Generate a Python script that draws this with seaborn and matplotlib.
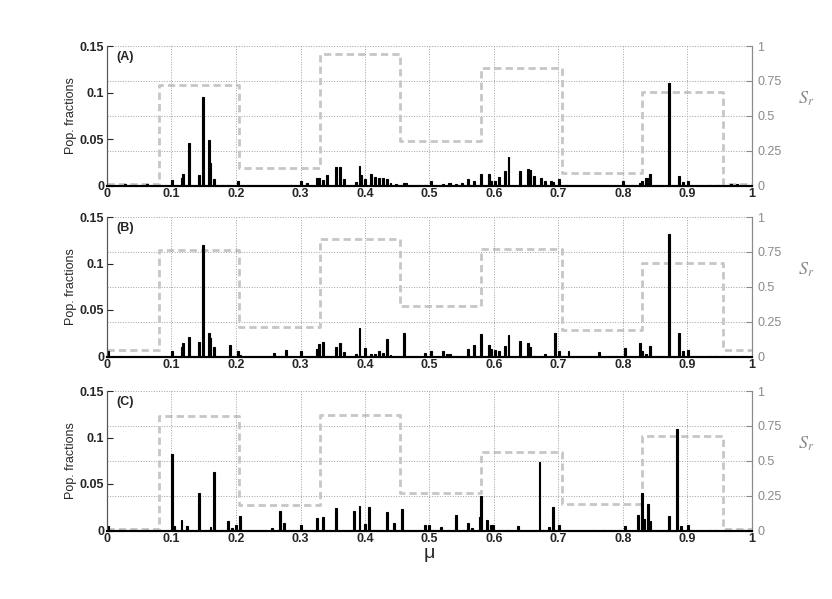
import numpy as np
import matplotlib
matplotlib.use('Agg')
import matplotlib.pyplot as plt
import seaborn as sns

sns.set_style('white')
plt.rcParams['font.family'] = ['Liberation Sans', 'DejaVu Sans']
plt.rcParams['mathtext.fontset'] = 'stix'

# S_r step function (right axis): segment edges and level per segment
edges = [0, 0.08, 0.205, 0.33, 0.455, 0.58, 0.705, 0.83, 0.955, 1.0]
sr_a = [0.01, 0.72, 0.125, 0.945, 0.32, 0.84, 0.09, 0.67, 0.01]
sr_b = [0.05, 0.76, 0.21, 0.84, 0.36, 0.77, 0.19, 0.67, 0.05]
sr_c = [0.01, 0.82, 0.18, 0.825, 0.27, 0.56, 0.19, 0.68, 0.01]

# population fractions (left axis)
mu_a = [0.005, 0.028, 0.043, 0.062, 0.100, 0.116, 0.119, 0.126, 0.143, 0.147,
        0.156, 0.160, 0.167, 0.179, 0.188, 0.201, 0.284, 0.301, 0.310, 0.325,
        0.328, 0.335, 0.341, 0.356, 0.361, 0.366, 0.385, 0.391, 0.395, 0.400,
        0.409, 0.416, 0.421, 0.426, 0.433, 0.440, 0.449, 0.459, 0.464, 0.485,
        0.493, 0.501, 0.519, 0.529, 0.533, 0.542, 0.550, 0.560, 0.568, 0.580,
        0.591, 0.596, 0.602, 0.608, 0.615, 0.621, 0.639, 0.651, 0.654, 0.660,
        0.672, 0.678, 0.687, 0.692, 0.701, 0.713, 0.800, 0.816, 0.826, 0.830,
        0.835, 0.838, 0.842, 0.872, 0.886, 0.892, 0.901, 0.935, 0.943, 0.950,
        0.968, 0.976, 0.989]
pop_a = [0.001, 0.0015, 0.001, 0.0015, 0.0054, 0.008, 0.0126, 0.046, 0.0115, 0.095,
         0.049, 0.024, 0.007, 0.001, 0.001, 0.005, 0.001, 0.005, 0.003, 0.008,
         0.008, 0.006, 0.011, 0.02, 0.02, 0.007, 0.004, 0.0205, 0.011, 0.0065,
         0.0126, 0.009, 0.008, 0.008, 0.0072, 0.003, 0.002, 0.003, 0.003, 0.001,
         0.001, 0.005, 0.002, 0.003, 0.003, 0.002, 0.003, 0.007, 0.005, 0.0126,
         0.0126, 0.005, 0.005, 0.009, 0.016, 0.0306, 0.016, 0.018, 0.017, 0.0097,
         0.008, 0.005, 0.0047, 0.004, 0.007, 0.001, 0.005, 0.001, 0.0025, 0.005,
         0.008, 0.008, 0.0126, 0.1097, 0.0097, 0.0036, 0.005, 0.001, 0.001, 0.001,
         0.002, 0.002, 0.001]

mu_b = [0.001, 0.020, 0.040, 0.060, 0.100, 0.116, 0.119, 0.126, 0.143, 0.147,
        0.156, 0.160, 0.167, 0.190, 0.201, 0.205, 0.258, 0.277, 0.301, 0.325,
        0.329, 0.335, 0.341, 0.356, 0.361, 0.366, 0.385, 0.391, 0.400, 0.409,
        0.416, 0.421, 0.426, 0.432, 0.440, 0.460, 0.493, 0.501, 0.519, 0.527,
        0.532, 0.542, 0.560, 0.568, 0.580, 0.591, 0.596, 0.602, 0.608, 0.615,
        0.621, 0.639, 0.651, 0.654, 0.660, 0.678, 0.690, 0.695, 0.701, 0.714,
        0.764, 0.802, 0.826, 0.830, 0.836, 0.842, 0.872, 0.886, 0.892, 0.901,
        0.935, 0.945, 0.955, 0.970, 0.985]
pop_b = [0.006, 0.001, 0.001, 0.001, 0.006, 0.0105, 0.014, 0.021, 0.016, 0.12,
         0.025, 0.0195, 0.0098, 0.0127, 0.006, 0.002, 0.0043, 0.0069, 0.006, 0.008,
         0.0134, 0.016, 0.001, 0.0098, 0.014, 0.005, 0.003, 0.031, 0.009, 0.0025,
         0.003, 0.006, 0.0043, 0.0188, 0.002, 0.025, 0.0043, 0.006, 0.006, 0.0025,
         0.0025, 0.001, 0.008, 0.0127, 0.024, 0.0127, 0.008, 0.0069, 0.006, 0.011,
         0.0235, 0.0163, 0.014, 0.0098, 0.001, 0.003, 0.001, 0.025, 0.006, 0.0054,
         0.005, 0.009, 0.0145, 0.0054, 0.003, 0.0116, 0.1316, 0.0253, 0.006, 0.0069,
         0.001, 0.001, 0.001, 0.001, 0.001]

mu_c = [0.001, 0.020, 0.040, 0.060, 0.102, 0.104, 0.115, 0.125, 0.142, 0.160,
        0.166, 0.178, 0.188, 0.194, 0.198, 0.205, 0.256, 0.268, 0.275, 0.301,
        0.326, 0.333, 0.355, 0.383, 0.390, 0.399, 0.407, 0.418, 0.432, 0.444,
        0.458, 0.493, 0.500, 0.517, 0.530, 0.541, 0.559, 0.566, 0.577, 0.580,
        0.590, 0.594, 0.599, 0.620, 0.638, 0.670, 0.676, 0.686, 0.693, 0.700,
        0.755, 0.770, 0.801, 0.824, 0.829, 0.832, 0.837, 0.840, 0.870, 0.884,
        0.890, 0.901, 0.935, 0.945, 0.960, 0.975, 0.988]
pop_c = [0.005, 0.001, 0.001, 0.001, 0.0826, 0.005, 0.0113, 0.0053, 0.0408, 0.0043,
         0.063, 0.001, 0.0106, 0.003, 0.0064, 0.016, 0.003, 0.0206, 0.0078, 0.0064,
         0.013, 0.015, 0.024, 0.0206, 0.0259, 0.007, 0.0255, 0.001, 0.0202, 0.0082,
         0.023, 0.0064, 0.0064, 0.0035, 0.001, 0.0167, 0.0082, 0.0025, 0.014, 0.0372,
         0.0117, 0.006, 0.006, 0.001, 0.0053, 0.0741, 0.001, 0.0035, 0.0255, 0.0064,
         0.001, 0.001, 0.0053, 0.0167, 0.040, 0.012, 0.0284, 0.0106, 0.016, 0.1089,
         0.0046, 0.006, 0.001, 0.001, 0.001, 0.001, 0.001]

panels = [('(A)', mu_a, pop_a, sr_a),
          ('(B)', mu_b, pop_b, sr_b),
          ('(C)', mu_c, pop_c, sr_c)]

fig = plt.figure(figsize=(8.32, 5.99), dpi=100)
left, width = 107 / 832, 645 / 832
tops = [46, 217, 391]
height = 139.5 / 599
gray = '#8a8a8a'

for (tag, mu, pop, sr), top in zip(panels, tops):
    bottom = (599 - top) / 599 - height
    ax = fig.add_axes([left, bottom, width, height])
    ax2 = ax.twinx()

    # S_r levels as a dashed step line on the right axis
    sns.lineplot(x=edges, y=sr + [sr[-1]], drawstyle='steps-post',
                 color='#c6c6c6', linewidth=2.0, ax=ax2)
    ax2.lines[-1].set_dashes([2.6, 1.5])
    ax2.set_ylim(0, 1)
    ax2.set_yticks([0, 0.25, 0.5, 0.75, 1])
    ax2.set_yticklabels(['0', '0.25', '0.5', '0.75', '1'], color=gray, fontsize=9)
    ax2.tick_params(axis='y', direction='in', length=4, color=gray, pad=4)
    ax2.grid(axis='y', linestyle=':', color='#a0a0a0', linewidth=0.7)
    ax2.set_ylabel('')
    ax2.text(1.084, 0.62, r'$S_r$', transform=ax2.transAxes, color=gray,
             fontsize=13, ha='center', va='center')

    # population fractions as narrow black bars
    sns.histplot(x=mu, weights=pop, binwidth=0.003, binrange=(0, 0.999),
                 color='black', edgecolor='black', linewidth=0.8, alpha=1,
                 ax=ax)
    ax.set_zorder(ax2.get_zorder() + 1)
    ax.patch.set_visible(False)
    ax.set_xlim(0, 1)
    ax.set_ylim(0, 0.15)
    ax.set_yticks([0, 0.05, 0.1, 0.15])
    ax.set_yticklabels(['0', '0.05', '0.1', '0.15'], fontweight='bold', fontsize=9)
    ax.set_xticks(np.arange(0, 1.01, 0.1))
    ax.set_xticklabels(['0', '0.1', '0.2', '0.3', '0.4', '0.5', '0.6', '0.7',
                        '0.8', '0.9', '1'], fontweight='bold', fontsize=9)
    ax.tick_params(axis='both', direction='in', length=4, pad=2)
    ax.grid(axis='x', linestyle=':', color='#a0a0a0', linewidth=0.7)
    ax.set_ylabel('Pop. fractions', fontsize=9)
    ax.yaxis.set_label_coords(-0.047, 0.5)
    ax.set_xlabel('')
    ax.text(0.015, 0.92, tag, transform=ax.transAxes, fontweight='bold',
            fontsize=9, va='center', ha='left')

    for a in (ax, ax2):
        a.spines['top'].set_visible(False)
        a.spines['left'].set_color('#555555')
        a.spines['right'].set_color(gray)
        a.spines['bottom'].set_color('black')
        a.spines['bottom'].set_linewidth(1.5)

ax.set_xlabel('μ', fontsize=14, labelpad=0)

fig.savefig('out.png', dpi=100)
